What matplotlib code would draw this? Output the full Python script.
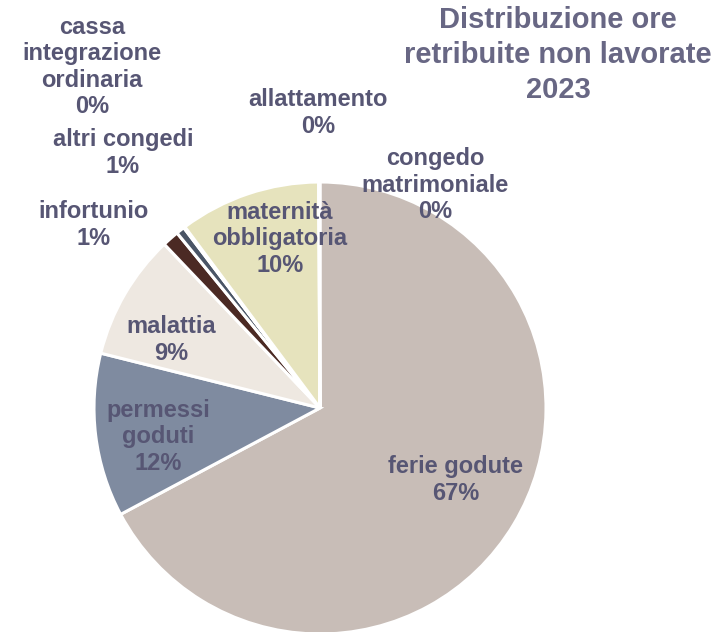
import matplotlib
matplotlib.use('Agg')
import matplotlib.pyplot as plt

plt.rcParams['font.family'] = ['Liberation Sans', 'DejaVu Sans']

# dati (ordine orario partendo dalle ore 12)
categorie = ["ferie godute", "permessi\ngoduti", "malattia", "infortunio", "altri congedi",
             "cassa\nintegrazione\nordinaria", "allattamento", "maternità\nobbligatoria",
             "congedo\nmatrimoniale"]
valori = [67.2, 11.7, 9.0, 1.2, 0.6, 0.05, 0.05, 10.1, 0.1]
colori = ["#C8BDB7", "#7F8BA0", "#EEE8E1", "#4B2A24", "#4A5566",
          "#9AA5B5", "#B7B0A6", "#E6E3BD", "#D9D2CC"]

# posizione etichette (pixel, centro del blocco)
pos_etichette = [(456, 480), (158, 437), (171, 340), (94, 225), (123, 153),
                 (92, 67), (318, 113), (280, 239), (435, 185)]

W, H = 725, 632
fig = plt.figure(figsize=(W / 100, H / 100), dpi=100)
cx, cy, r = 320, 408, 226
ax = fig.add_axes([(cx - r) / W, (H - cy - r) / H, 2 * r / W, 2 * r / H])
ax.pie(valori, colors=colori, startangle=90, counterclock=False,
       wedgeprops=dict(edgecolor="white", linewidth=2.2))
ax.set_xlim(-1, 1)
ax.set_ylim(-1, 1)
ax.set_aspect('auto')
ax.axis('off')

col_testo = "#575674"
for nome, v, (px, py) in zip(categorie, valori, pos_etichette):
    fig.text(px / W, 1 - py / H, f"{nome}\n{round(v)}%", ha="center", va="center",
             fontsize=17, fontweight="bold", color=col_testo, linespacing=1.2)

fig.text(558 / W, 1 - 55 / H, "Distribuzione ore\nretribuite non lavorate\n2023",
         ha="center", va="center", fontsize=21, fontweight="bold",
         color="#686784", linespacing=1.32)

fig.savefig("out.png", dpi=100)
